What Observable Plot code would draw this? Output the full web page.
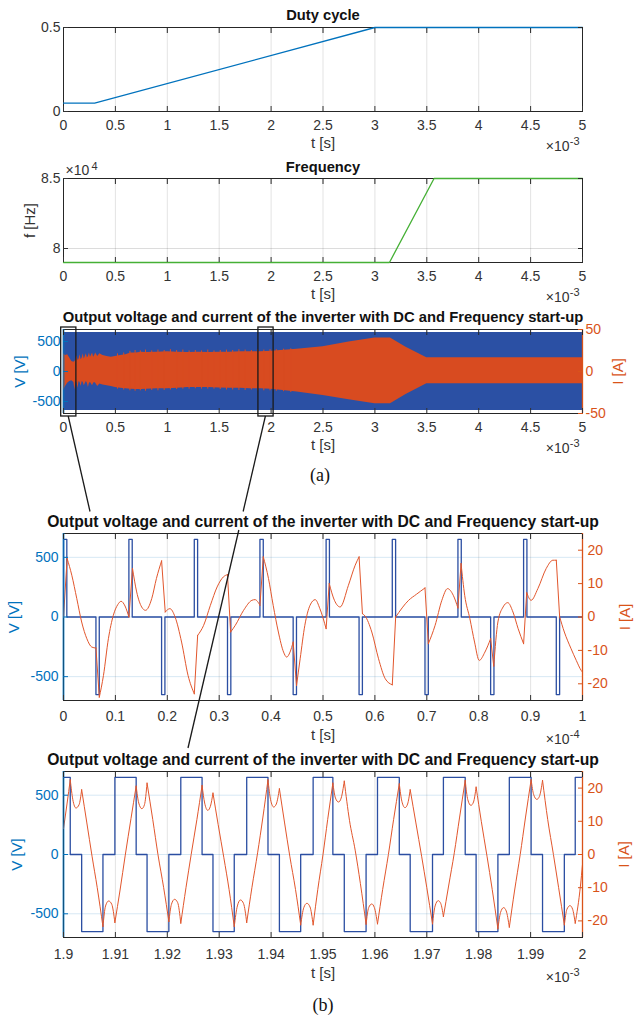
<!DOCTYPE html>
<html><head><meta charset="utf-8">
<script src="https://cdn.jsdelivr.net/npm/d3@7"></script>
<script src="https://cdn.jsdelivr.net/npm/@observablehq/plot@0.6"></script>
<style>
body{margin:0;background:#fff;}
#root{position:relative;width:639px;height:1019px;overflow:hidden;background:#fff;}
</style></head><body><div id="root"></div>
<script>
// ---------------- DATA ----------------
// Panel 1: duty cycle (t in ms)
const dutyT = [0, 0.3, 3.0, 5.0];
const dutyD = [0.05, 0.05, 0.5, 0.5];
// Panel 2: frequency (t in ms, f in Hz)
const freqT = [0, 3.14, 3.57, 5.0];
const freqF = [79000, 79000, 85000, 85000];
// Panel 3: envelopes (t in ms)
const vdc = 650;
const vEnvT = [0, 5];
const envT = [0,0.02,0.04,0.06,0.08,0.10,0.11,0.12,0.13,0.14,0.15,0.16,0.17,0.18,0.19,0.20,0.22,0.23,0.24,0.25,0.26,0.28,0.29,0.30,0.31,0.33,0.35,0.38,0.42,0.46,0.50,0.55,0.60,0.65,0.70,0.75,0.80,0.90,1.00,1.10,1.20,1.30,1.40,1.50,1.60,1.70,1.80,1.90,2.00,2.25,2.50,2.75,3.00,3.15,3.30,3.50,5.00];
const envUpper = [21,19,20,16,12,11,12,14,19,13,15,20,14,16,21,15,21,16,18,22,17,22,17,19,22,18,21,19,18,17,18,19,20,22,22,23,22.5,23,23.5,23,22.5,23,22.5,23,23,23.5,23.5,23.5,24,26.5,29.5,35,40,40,29,16.3,16.3];
const envLower = [-22.5,-18,-14,-12,-11,-13,-22,-12,-13,-20,-12,-13,-18,-12,-13,-17,-12,-14,-19,-14,-13,-17,-14,-13,-14,-18,-15,-16,-17,-18,-19,-20,-20.5,-21,-21.5,-21.5,-21,-20.5,-20.5,-20,-19,-19,-19,-19.5,-20,-20,-20.5,-20.5,-21,-24.5,-28.5,-33.5,-38.5,-38.5,-27.5,-14.7,-14.5];
// Panel 3: isolated current spikes above/below the envelope (t in ms)
const spikeT   = [0.52,0.58,0.64,0.69,0.74,0.79,0.85,0.91,0.97,1.03,1.09,1.15,1.21,1.27,1.33,1.39,1.45,1.51,1.57,1.63,1.69,1.75,1.81,1.87,1.93,1.99,2.05,2.12,2.19];
const spikeTop = [21,22,24,25,24.5,25.5,24.5,25.5,25,26,25,25.5,24.5,25,24.5,25.5,24.5,25,25.5,25,26,25.5,25,26,25.5,26,26,26.5,27];
const spikeBot = [-21,-22,-23,-23.5,-23,-23.5,-22.5,-23,-22.5,-22,-21.5,-21,-21,-20.5,-21,-21,-21,-21.5,-22,-22,-22.5,-22.5,-22,-23,-23,-23,-23.5,-24,-25];
const zoomWindows = [[0, 0.1], [1.9, 2.0]];
// Panel 4: t in units of 1e-4 s
const p4PosStart = [0.0, 0.126, 0.252, 0.3785, 0.506, 0.6335, 0.760, 0.8865];
const p4NegStart = [0.0625, 0.189, 0.316, 0.4425, 0.5695, 0.6965, 0.823, 0.9495];
const p4PulseWidth = 0.0064;
const p4CurT = [0,0.007,0.016,0.0256,0.035,0.045,0.0545,0.0625,0.069,0.077,
  0.0865,0.096,0.1045,0.111,0.1185,0.126,0.133,0.141,0.1506,0.158,
  0.170,0.179,0.189,0.196,0.205,0.215,0.2275,0.240,0.252,0.2585,
  0.270,0.283,0.296,0.308,0.316,0.322,0.331,0.347,0.363,0.369,
  0.3785,0.385,0.395,0.404,0.414,0.424,0.430,0.4365,0.4425,0.449,
  0.456,0.465,0.475,0.485,0.494,0.506,0.512,0.522,0.533,0.549,
  0.562,0.5695,0.576,0.581,0.594,0.607,0.620,0.6335,0.640,0.665,
  0.680,0.6965,0.703,0.716,0.729,0.740,0.751,0.760,0.766,0.773,
  0.783,0.792,0.801,0.812,0.823,0.829,0.837,0.847,0.856,0.866,
  0.876,0.8865,0.8925,0.901,0.914,0.930,0.943,0.9495,0.956,0.965,
  0.978,0.988,0.9975,1.0];
const p4CurI = [0,17.5,12.5,5.5,-1.5,-6.5,-9,-9.3,-24,-17.5,
  -6.5,0.5,3.7,4.7,3.3,0,14.5,7.5,3,2,
  5.5,11.5,16.8,1.5,2.5,0,-7.5,-17.5,-23,-5.5,
  -2.5,3.5,9,12,12.7,-4.5,-2.5,2,5,5.2,
  3.5,18,11.5,3.5,-4.5,-10.5,-12,-10.5,-7.5,-20.5,
  -12.5,-2.5,3.5,5.2,2.5,-3.5,10,5,3,9.5,
  15.5,18,1,0.3,-4.5,-12.5,-18.5,-20.3,0,5,
  6.8,8.7,-8,-2.5,5,8.5,6.5,2.7,16,6.5,
  -0.5,-7.5,-13,-10.5,-6.5,-14.7,-1.5,3,4.3,1.5,
  -3.5,-8,7.3,5,8.5,14.5,17,17,0,-4.5,
  -9.5,-13,-16,-16.5];
// Panel 5: t in ms
const p5PosStart = [1.8972,1.9099,1.9226,1.9353,1.9481,1.9605,1.9732,1.9859,1.9986];
const p5PosEnd   = [1.9013,1.9140,1.9267,1.9394,1.9519,1.9647,1.9774,1.9901,2.0027];
const p5NegStart = [1.9035,1.9161,1.9288,1.9416,1.9541,1.9668,1.9795,1.9923];
const p5NegEnd   = [1.9076,1.9203,1.9329,1.9457,1.9583,1.9711,1.9837,1.9965];
const p5CurT = [1.9000,1.9007,1.9013,1.9018,1.9024,1.9030,1.9035,1.9045,1.9055,1.9065,
  1.9076,1.9081,1.9087,1.9093,1.9099,1.9109,1.9119,1.9130,1.9140,1.9145,
  1.9151,1.9156,1.9161,1.9172,1.9182,1.9193,1.9203,1.9208,1.9214,1.9220,
  1.9226,1.9236,1.9246,1.9257,1.9267,1.9272,1.9278,1.9283,1.9288,1.9298,
  1.9309,1.9319,1.9329,1.9335,1.9341,1.9347,1.9353,1.9363,1.9374,1.9384,
  1.9394,1.9399,1.9405,1.9410,1.9416,1.9426,1.9436,1.9447,1.9457,1.9463,
  1.9469,1.9475,1.9481,1.9490,1.9500,1.9509,1.9519,1.9524,1.9530,1.9535,
  1.9541,1.9551,1.9562,1.9572,1.9583,1.9588,1.9594,1.9599,1.9605,1.9615,
  1.9626,1.9636,1.9647,1.9652,1.9658,1.9663,1.9668,1.9679,1.9690,1.9700,
  1.9711,1.9716,1.9722,1.9727,1.9732,1.9742,1.9753,1.9763,1.9774,1.9779,
  1.9785,1.9790,1.9795,1.9805,1.9816,1.9826,1.9837,1.9842,1.9848,1.9853,
  1.9859,1.9869,1.9880,1.9890,1.9901,1.9906,1.9912,1.9917,1.9923,1.9933,
  1.9944,1.9954,1.9965,1.9970,1.9976,1.9981,1.9986,1.9996,2.0000];
const p5CurI = [7.8,15.5,22.5,16.5,14.0,15.0,19.5,9.5,-0.5,-10.0,
  -21.7,-15.5,-14.0,-15.0,-20.5,-10.7,-0.2,10.8,20.6,15.5,
  13.8,15.0,21.5,10.5,0,-10,-20.2,-15,-13.5,-14.5,
  -20.7,-10,0,10.5,20.8,15.5,13.3,14.5,18.5,9,
  -1,-10.5,-21.7,-15.5,-13.7,-14.8,-20.5,-10,0.5,11,
  22.5,16.5,14.3,15.2,19.8,9.5,-0.5,-10.5,-21.2,-16,
  -14.7,-15.8,-21.2,-10.5,0,10.5,21.5,17,15.8,17,
  22.1,10.3,1.3,-8.7,-21.0,-16,-14.9,-16,-20.9,-10.5,
  0,10.5,21.3,16,14.1,15.2,19.5,9.5,-0.5,-10,
  -20.9,-15.5,-13.9,-14.8,-18.7,-9.5,0.5,11,22.3,16.5,
  14.8,15.8,20.3,10,-0.5,-10.5,-22.4,-17.5,-16,-17,
  -21.9,-11,0,11,22.5,18,16.6,17.5,22.3,10.5,
  0,-10,-21.2,-16.5,-15.4,-16.5,-20.7,-9.5,-3];
// Tick values
const ticksMs = [0,0.5,1,1.5,2,2.5,3,3.5,4,4.5,5];
const ticksP4 = [0,0.1,0.2,0.3,0.4,0.5,0.6,0.7,0.8,0.9,1];
const ticksP5 = [1.9,1.91,1.92,1.93,1.94,1.95,1.96,1.97,1.98,1.99,2];
const dutyTicks = [0, 0.5];
const freqTicks = [80000, 85000];
const vTicks = [-500, 0, 500];
const iTicksP3 = [-50, 0, 50];
const iTicksZoom = [-20, -10, 0, 10, 20];

// ---------------- STYLE ----------------
const W = 639, ML = 63, MR = 57;
const FONT = "'Liberation Sans', Arial, Helvetica, sans-serif";
const INK = "#333333";
const BLUE = "#0072BD", ORANGE = "#D95319";
const VFILL = "#2B50A4", IFILL = "#D84B20", VLINE = "#2B4EA2", ILINE = "#E2562C";
const VMAX = 700;
const root = document.getElementById("root");
const fmt = d => String(d);

function panel(o) {
  const H = o.mt + o.boxH + o.mb;
  const m = [];
  m.push(Plot.gridX(o.xTicks, {stroke: "#262626", strokeOpacity: 0.13}));
  if (o.yGrid) m.push(Plot.gridY(o.yGrid, {stroke: o.yGridColor, strokeOpacity: 0.16}));
  m.push(Plot.frame({stroke: "#262626", strokeWidth: 1}));
  m.push(...o.data);
  if (o.leftSpine) m.push(Plot.ruleX([o.xDomain[0]], {stroke: o.leftSpine, strokeWidth: 2.2, strokeOpacity: 0.6}));
  if (o.rightSpine) m.push(Plot.ruleX([o.xDomain[1]], {stroke: o.rightSpine, strokeWidth: 1.3}));
  m.push(Plot.axisX(o.xTicks, {anchor: "bottom", tickSize: -5, tickPadding: 5 + o.xPad, tickFormat: fmt, color: INK, label: null}));
  m.push(Plot.axisX(o.xTicks, {anchor: "top", tickSize: -5, tickFormat: () => "", color: "#262626", label: null}));
  m.push(Plot.axisY(o.yTicks, {anchor: "left", tickSize: -5, tickPadding: 5 + o.yPad, tickFormat: o.yFmt, color: o.yColor, label: null}));
  m.push(Plot.axisY(o.rTicks, {anchor: "right", tickSize: -5, tickPadding: 5 + o.rPad, tickFormat: o.rFmt, color: o.rColor, label: null}));
  if (o.extra) m.push(...o.extra);
  m.push(Plot.text([o.title], {text: d => d, frameAnchor: "top", dy: o.titleDy, fontWeight: "bold", fontSize: o.titleSize, fill: "#111", lineAnchor: "middle", textAnchor: "middle"}));
  m.push(Plot.text(["t [s]"], {text: d => d, frameAnchor: "bottom", dy: o.xLabelDy, fontSize: 15, fill: INK, lineAnchor: "middle", textAnchor: "middle"}));
  m.push(Plot.text(["×10"], {text: d => d, frameAnchor: "bottom-right", dx: -13, dy: o.expDy, textAnchor: "end", lineAnchor: "middle", fontSize: 14, fill: INK}));
  m.push(Plot.text([o.exp], {text: d => d, frameAnchor: "bottom-right", dx: -3, dy: o.expDy - 5, textAnchor: "end", lineAnchor: "middle", fontSize: 11, fill: INK}));
  if (o.yLabel) m.push(Plot.text([o.yLabel], {text: d => d, frameAnchor: "left", dx: o.yLabelDx, rotate: -90, fontSize: 15, fill: o.yLabelColor, lineAnchor: "middle", textAnchor: "middle"}));
  if (o.rLabel) m.push(Plot.text([o.rLabel], {text: d => d, frameAnchor: "right", dx: o.rLabelDx, rotate: -90, fontSize: 15, fill: o.rLabelColor, lineAnchor: "middle", textAnchor: "middle"}));
  const svg = Plot.plot({
    width: W, height: H, marginLeft: ML, marginRight: MR, marginTop: o.mt, marginBottom: o.mb,
    x: {domain: o.xDomain}, y: {domain: o.yDomain},
    style: {fontFamily: FONT, fontSize: "14px", background: "transparent", overflow: "visible"},
    marks: m
  });
  svg.style.position = "absolute";
  svg.style.left = "0px";
  svg.style.top = (o.boxTop - o.mt) + "px";
  root.appendChild(svg);
  return svg;
}

function stepPoints(pulses) {
  const pts = [];
  pulses.sort((a, b) => a.s - b.s).forEach(p => {
    pts.push([p.s, 0], [p.s, p.v], [p.e, p.v], [p.e, 0]);
  });
  return pts;
}

// split a current trace into smooth pieces at the switching instants (sharp corners there)
function splitAtEdges(T, I, edges, tol, k) {
  const out = [];
  let seg = 0;
  T.forEach((t, i) => {
    out.push({t, y: I[i] * k, seg});
    if (i > 0 && i < T.length - 1 && edges.some(e => Math.abs(e - t) < tol)) {
      seg++;
      out.push({t, y: I[i] * k, seg});
    }
  });
  return out;
}

// ---------------- PANEL 1 ----------------
panel({
  boxTop: 27, boxH: 84, mt: 27, mb: 46,
  xDomain: [0, 5], xTicks: ticksMs, xPad: 9,
  yDomain: [0, 0.5], yTicks: dutyTicks, yFmt: fmt, yColor: INK, yPad: 3,
  rTicks: dutyTicks, rFmt: () => "", rColor: "#262626", rPad: 3,
  data: [Plot.line(dutyT.map((t, i) => [t, dutyD[i]]), {x: d => d[0], y: d => d[1], stroke: BLUE, strokeWidth: 1.3})],
  title: "Duty cycle", titleDy: -12, titleSize: 14.7,
  xLabelDy: 32, expDy: 35, exp: "-3"
});

// ---------------- PANEL 2 ----------------
panel({
  boxTop: 178, boxH: 84, mt: 25, mb: 46,
  xDomain: [0, 5], xTicks: ticksMs, xPad: 9,
  yDomain: [79000, 85000], yTicks: freqTicks, yFmt: d => String(d / 10000), yColor: INK, yPad: 3,
  yGrid: [80000], yGridColor: "#262626",
  rTicks: freqTicks, rFmt: () => "", rColor: "#262626", rPad: 3,
  data: [Plot.line(freqT.map((t, i) => [t, freqF[i]]), {x: d => d[0], y: d => d[1], stroke: "#45B035", strokeWidth: 1.3})],
  extra: [
    Plot.text(["×10"], {text: d => d, frameAnchor: "top-left", dx: 2, dy: -8, textAnchor: "start", lineAnchor: "middle", fontSize: 14, fill: INK}),
    Plot.text(["4"], {text: d => d, frameAnchor: "top-left", dx: 28, dy: -12, textAnchor: "start", lineAnchor: "middle", fontSize: 11, fill: INK})
  ],
  title: "Frequency", titleDy: -11, titleSize: 14.7,
  yLabel: "f [Hz]", yLabelDx: -33.5, yLabelColor: INK,
  xLabelDy: 32, expDy: 35, exp: "-3"
});

// ---------------- PANEL 3 ----------------
const k3 = VMAX / 50;
const envIdx = envT.map((_, i) => i);
const spikeIdx = spikeT.map((_, i) => i);
const p3 = panel({
  boxTop: 329, boxH: 84, mt: 24, mb: 46,
  xDomain: [0, 5], xTicks: ticksMs, xPad: 9,
  yDomain: [-VMAX, VMAX], yTicks: vTicks, yFmt: fmt, yColor: BLUE, yPad: 3,
  yGrid: vTicks, yGridColor: BLUE,
  rTicks: iTicksP3.map(v => v * k3), rFmt: d => String(Math.round(d / k3)), rColor: ORANGE, rPad: 3,
  leftSpine: BLUE, rightSpine: ORANGE,
  data: [
    Plot.areaY(vEnvT, {x: d => d, y1: -vdc, y2: vdc, fill: VFILL}),
    Plot.areaY(envIdx, {x: i => envT[i], y1: i => envLower[i] * k3, y2: i => envUpper[i] * k3, fill: IFILL}),
    Plot.ruleX(spikeIdx, {x: i => spikeT[i], y1: i => spikeBot[i] * k3, y2: i => spikeTop[i] * k3, stroke: IFILL, strokeWidth: 1})
  ],
  extra: [
    Plot.rect(zoomWindows, {x1: d => d[0], x2: d => d[1], insetLeft: -2.3, insetRight: -2.5, insetTop: -2, insetBottom: -3, stroke: "#1a1a1a", strokeWidth: 1.3, fill: "none"})
  ],
  title: "Output voltage and current of the inverter with DC and Frequency start-up", titleDy: -12, titleSize: 14.8,
  yLabel: "V [V]", yLabelDx: -43, yLabelColor: BLUE,
  rLabel: "I [A]", rLabelDx: 36, rLabelColor: ORANGE,
  xLabelDy: 32, expDy: 35, exp: "-3"
});

// ---------------- PANEL 4 ----------------
const kz = VMAX / 25;
const p4Pulses = [
  ...p4PosStart.map(s => ({s, e: s + p4PulseWidth, v: vdc})),
  ...p4NegStart.map(s => ({s, e: s + p4PulseWidth, v: -vdc}))
];
const p4V = [[0, 0], ...stepPoints(p4Pulses), [1, 0]];
const p4Edges = p4Pulses.flatMap(p => [p.s, p.e]);
const p4I = splitAtEdges(p4CurT, p4CurI, p4Edges, 0.0012, kz);
panel({
  boxTop: 533, boxH: 167, mt: 28, mb: 46,
  xDomain: [0, 1], xTicks: ticksP4, xPad: 11,
  yDomain: [-VMAX, VMAX], yTicks: vTicks, yFmt: fmt, yColor: BLUE, yPad: 5,
  yGrid: vTicks, yGridColor: BLUE,
  rTicks: iTicksZoom.map(v => v * kz), rFmt: d => String(Math.round(d / kz)), rColor: ORANGE, rPad: 5,
  leftSpine: BLUE, rightSpine: ORANGE,
  data: [
    Plot.line(p4V, {x: d => d[0], y: d => d[1], stroke: VLINE, strokeWidth: 1.3, clip: true}),
    Plot.line(p4I, {x: "t", y: "y", z: "seg", stroke: ILINE, strokeWidth: 1, curve: "monotone-x", clip: true})
  ],
  title: "Output voltage and current of the inverter with DC and Frequency start-up", titleDy: -12, titleSize: 15.7,
  yLabel: "V [V]", yLabelDx: -49, yLabelColor: BLUE,
  rLabel: "I [A]", rLabelDx: 43, rLabelColor: ORANGE,
  xLabelDy: 35, expDy: 39, exp: "-4"
});

// ---------------- PANEL 5 ----------------
const p5Pulses = [
  ...p5PosStart.map((s, i) => ({s, e: p5PosEnd[i], v: vdc})),
  ...p5NegStart.map((s, i) => ({s, e: p5NegEnd[i], v: -vdc}))
];
const p5V = stepPoints(p5Pulses);
const p5Edges = p5Pulses.flatMap(p => [p.s, p.e]);
const p5I = splitAtEdges(p5CurT, p5CurI, p5Edges, 0.0002, kz);
panel({
  boxTop: 771, boxH: 166, mt: 28, mb: 46,
  xDomain: [1.9, 2.0], xTicks: ticksP5, xPad: 12,
  yDomain: [-VMAX, VMAX], yTicks: vTicks, yFmt: fmt, yColor: BLUE, yPad: 5,
  yGrid: vTicks, yGridColor: BLUE,
  rTicks: iTicksZoom.map(v => v * kz), rFmt: d => String(Math.round(d / kz)), rColor: ORANGE, rPad: 5,
  leftSpine: BLUE, rightSpine: ORANGE,
  data: [
    Plot.line(p5V, {x: d => d[0], y: d => d[1], stroke: VLINE, strokeWidth: 1.3, clip: true}),
    Plot.line(p5I, {x: "t", y: "y", z: "seg", stroke: ILINE, strokeWidth: 1, curve: "monotone-x", clip: true})
  ],
  title: "Output voltage and current of the inverter with DC and Frequency start-up", titleDy: -12, titleSize: 15.7,
  yLabel: "V [V]", yLabelDx: -46.5, yLabelColor: BLUE,
  rLabel: "I [A]", rLabelDx: 41.5, rLabelColor: ORANGE,
  xLabelDy: 36, expDy: 40, exp: "-3"
});

// ---------------- OVERLAY: connectors and captions ----------------
const xs3 = p3.scale("x");
const rectBottom = 329 + 84 + 3;
const c1 = xs3.apply((zoomWindows[0][0] + zoomWindows[0][1]) / 2);
const c2 = xs3.apply((zoomWindows[1][0] + zoomWindows[1][1]) / 2);
const end1 = [90, 511.5], end2 = [188, 748];
const ov = d3.create("svg").attr("width", W).attr("height", 1019)
  .style("position", "absolute").style("left", "0px").style("top", "0px").style("pointer-events", "none");
ov.append("line").attr("x1", c1).attr("y1", rectBottom).attr("x2", end1[0]).attr("y2", end1[1])
  .attr("stroke", "#1a1a1a").attr("stroke-width", 1.3);
const slope = (end2[0] - c2) / (end2[1] - rectBottom);
const gapA = 511.5, gapB = 530;
ov.append("line").attr("x1", c2).attr("y1", rectBottom).attr("x2", c2 + slope * (gapA - rectBottom)).attr("y2", gapA)
  .attr("stroke", "#1a1a1a").attr("stroke-width", 1.3);
ov.append("line").attr("x1", c2 + slope * (gapB - rectBottom)).attr("y1", gapB).attr("x2", end2[0]).attr("y2", end2[1])
  .attr("stroke", "#1a1a1a").attr("stroke-width", 1.3);
ov.append("text").text("(a)").attr("x", 320).attr("y", 475).attr("text-anchor", "middle").attr("dominant-baseline", "central")
  .attr("font-family", "'Liberation Serif', 'Times New Roman', serif").attr("font-size", 18).attr("fill", "#111");
ov.append("text").text("(b)").attr("x", 323).attr("y", 1005).attr("text-anchor", "middle").attr("dominant-baseline", "central")
  .attr("font-family", "'Liberation Serif', 'Times New Roman', serif").attr("font-size", 18).attr("fill", "#111");
root.appendChild(ov.node());
</script></body></html>
